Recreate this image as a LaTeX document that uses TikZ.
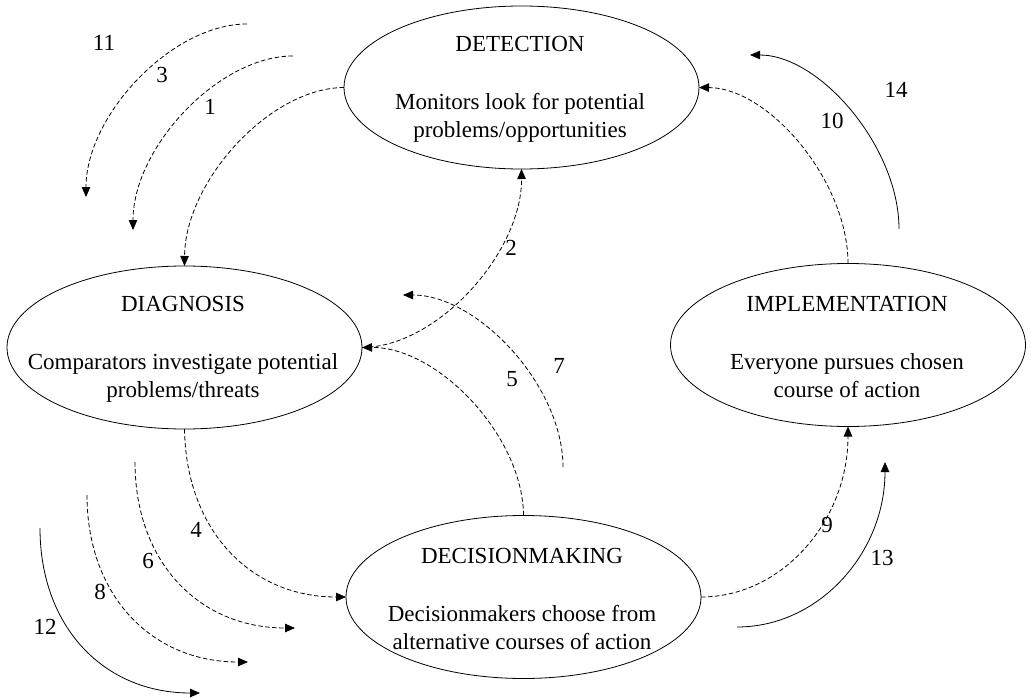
\documentclass[tikz,border=0pt]{standalone}
\usepackage{fontspec}
\setmainfont{Liberation Serif}
\usetikzlibrary{shapes.geometric,arrows.meta}

\begin{document}
\begin{tikzpicture}[x=1pt,y=-1pt,
  stage/.style={draw,ellipse,line width=0.8pt,inner sep=0pt,outer sep=0pt,
                minimum width=355pt,minimum height=163pt},
  stagetext/.style={align=center,font=\fontsize{23}{28}\selectfont,inner sep=0pt},
  num/.style={font=\fontsize{23}{26}\selectfont,inner sep=0pt},
  flow/.style={line width=0.8pt,-{Triangle[length=10pt,width=8.5pt]}},
  loose/.style={flow,dash pattern=on 4.5pt off 2.5pt},
]
\useasboundingbox (0,0) rectangle (1031,698);

% the four stages of the cycle
\node[stage] (det)  at (521.5,87.5) {};
\node[stage] (diag) at (184.5,347.5) {};
\node[stage] (impl) at (848,345) {};
\node[stage] (dec)  at (523.5,597) {};

\node[stagetext] (det-t)  at (520,89)  {DETECTION\\[30pt]Monitors look for potential\\problems/opportunities};
\node[stagetext] (diag-t) at (183,349) {DIAGNOSIS\\[30pt]Comparators investigate potential\\problems/threats};
\node[stagetext] (impl-t) at (847,347) {IMPLEMENTATION\\[30pt]Everyone pursues chosen\\course of action};
\node[stagetext] (dec-t)  at (522,599) {DECISIONMAKING\\[30pt]Decisionmakers choose from\\alternative courses of action};

% free ends of the parallel arcs
\coordinate (a3s)  at (293,56);   \coordinate (a3e)  at (133,230);
\coordinate (a11s) at (247,24);   \coordinate (a11e) at (86,197);
\coordinate (a7s)  at (563,467);  \coordinate (a7e)  at (403,295);
\coordinate (a6s)  at (135,462);  \coordinate (a6e)  at (295,628);
\coordinate (a8s)  at (87,495);   \coordinate (a8e)  at (248,662);
\coordinate (a12s) at (40,528);   \coordinate (a12e) at (200,693);
\coordinate (a13s) at (737,627);  \coordinate (a13e) at (885,462);
\coordinate (a14s) at (899,229);  \coordinate (a14e) at (750,55);

% detection -> diagnosis
\draw[loose] (det.180) .. controls (269,88) and (185,182) .. (diag.90);
\draw[loose] (a3s) .. controls (218,56) and (133,148) .. (a3e);
\draw[loose] (a11s) .. controls (171,24) and (86,116) .. (a11e);

% back to detection
\draw[loose] (diag.0) .. controls (438,347) and (522,252) .. (det.-90);

% decisionmaking -> diagnosis
\draw[loose] (dec.90) .. controls (523,436) and (438,347) .. (diag.0);
\draw[loose] (a7s) .. controls (563,386) and (478,295) .. (a7e);

% diagnosis -> decisionmaking
\draw[loose] (diag.-90) .. controls (186,530) and (250,597) .. (dec.180);
\draw[loose] (a6s) .. controls (135,562) and (199,628) .. (a6e);
\draw[loose] (a8s) .. controls (87,595) and (151,662) .. (a8e);
\draw[flow]  (a12s) .. controls (40,627) and (104,693) .. (a12e);

% decisionmaking -> implementation
\draw[loose] (dec.0) .. controls (782,597) and (848,521) .. (impl.-90);
\draw[flow]  (a13s) .. controls (819,627) and (885,553) .. (a13e);

% implementation -> detection
\draw[loose] (impl.90) .. controls (848,181) and (769,88) .. (det.0);
\draw[flow]  (a14s) .. controls (899,147) and (820,55) .. (a14e);

% step numbers
\node[num] (n1)  at (210,107) {1};
\node[num] (n2)  at (511,248) {2};
\node[num] (n3)  at (162,75)  {3};
\node[num] (n4)  at (196,530) {4};
\node[num] (n5)  at (512,379) {5};
\node[num] (n6)  at (148,561) {6};
\node[num] (n7)  at (559,366) {7};
\node[num] (n8)  at (100,592) {8};
\node[num] (n9)  at (827,525) {9};
\node[num] (n10) at (832,121) {10};
\node[num] (n11) at (104,43)  {11};
\node[num] (n12) at (45,627)  {12};
\node[num] (n13) at (882,558) {13};
\node[num] (n14) at (896,90)  {14};
\end{tikzpicture}
\end{document}
